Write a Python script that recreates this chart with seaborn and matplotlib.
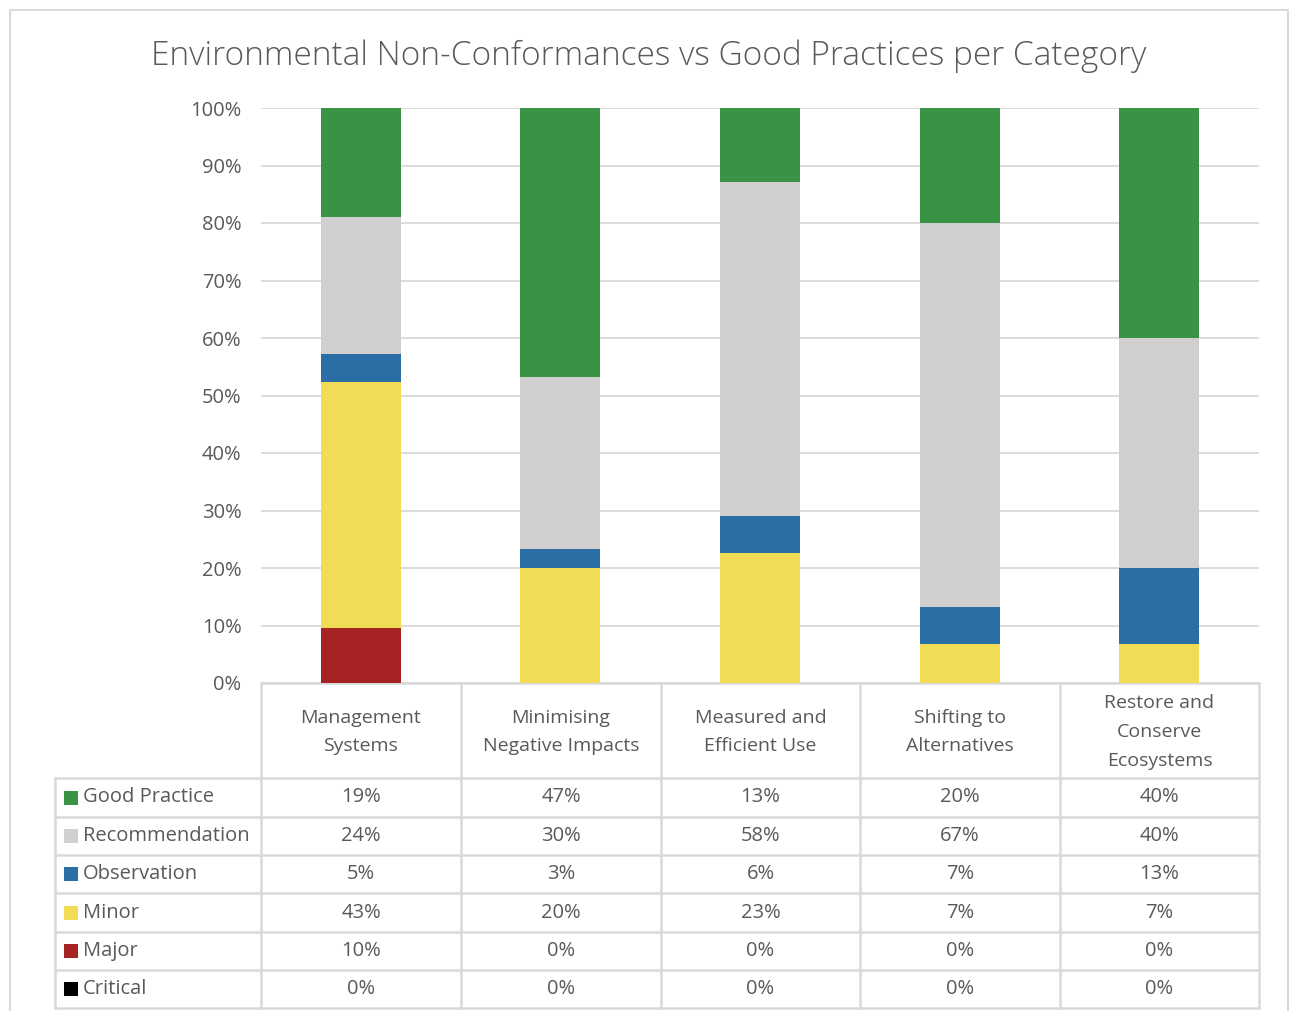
import numpy as np
import pandas as pd
import matplotlib
matplotlib.use("Agg")
import matplotlib.pyplot as plt
import seaborn as sns
from matplotlib.lines import Line2D
from matplotlib.patches import Rectangle
from matplotlib.ticker import PercentFormatter

# ── Data (percent of findings per category) ──────────────────────────────────
categories = [
    "Management\nSystems",
    "Minimising\nNegative Impacts",
    "Measured and\nEfficient Use",
    "Shifting to\nAlternatives",
    "Restore and\nConserve\nEcosystems",
]
critical       = [0.0, 0.0, 0.0, 0.0, 0.0]
major          = [9.5, 0.0, 0.0, 0.0, 0.0]
minor          = [42.9, 20.0, 22.6, 6.7, 6.7]
observation    = [4.8, 3.3, 6.45, 6.6, 13.3]
recommendation = [23.8, 30.0, 58.1, 66.7, 40.0]
good_practice  = [19.0, 46.7, 12.9, 20.0, 40.0]

series_names  = ["Critical", "Major", "Minor", "Observation", "Recommendation", "Good Practice"]
series_values = [critical, major, minor, observation, recommendation, good_practice]
series_colors = ["#000000", "#A52323", "#F2DB55", "#2B6EA6", "#D0CECE", "#3A9244"]

TEXT = "#595959"
GRID = "#D9D9D9"
FONT = ["Open Sans", "DejaVu Sans"]

W, H = 1292, 1011

sns.set_theme(style="white")
plt.rcParams["font.family"] = FONT

fig = plt.figure(figsize=(W / 100, H / 100), dpi=100)

# overlay in pixel coordinates for the chart frame and the data table
bg = fig.add_axes([0, 0, 1, 1], zorder=0)
bg.set_xlim(0, W)
bg.set_ylim(H, 0)
bg.axis("off")

# ── Stacked 100% bars ────────────────────────────────────────────────────────
px_l, px_r, px_t, px_b = 261, 1259, 108, 683
ax = fig.add_axes([px_l / W, 1 - px_b / H, (px_r - px_l) / W, (px_b - px_t) / H], zorder=1)
ax.patch.set_alpha(0)

df = pd.DataFrame({"category": categories})
cum = np.zeros(len(categories))
cums = []
for vals in series_values:
    cum = cum + np.array(vals)
    cums.append(cum.copy())
# draw tallest (cumulative) first so lower segments sit on top
for name, c, col in reversed(list(zip(series_names, cums, series_colors))):
    d = df.assign(value=c)
    sns.barplot(data=d, x="category", y="value", color=col, width=0.4,
                saturation=1, ax=ax, zorder=3, linewidth=0)

ax.set_xlim(-0.5, len(categories) - 0.5)
ax.set_ylim(0, 100)
ax.set_yticks(np.arange(0, 101, 10))
ax.yaxis.set_major_formatter(PercentFormatter(decimals=0))
ax.tick_params(axis="y", labelsize=14.5, colors=TEXT, length=0, pad=14)
ax.set_xticks([])
ax.set_xlabel("")
ax.set_ylabel("")
ax.grid(axis="y", color=GRID, lw=1.3, zorder=0)
for s in ax.spines.values():
    s.set_visible(False)

# title
fig.text(649 / W, 1 - 56 / H, "Environmental Non-Conformances vs Good Practices per Category",
         ha="center", va="center", fontsize=24, color=TEXT, fontweight="light")

# chart frame
bg.add_patch(Rectangle((10, 10), 1278, 1020, fill=False, ec=GRID, lw=1.5))

# ── Data table ───────────────────────────────────────────────────────────────
col_edges = [261, 461, 661, 860, 1060, 1259]
row_edges = [778, 817, 855, 893, 932, 970, 1008]
lab_left = 55
lc = "#D9D9D9"

bg.add_line(Line2D([col_edges[0], col_edges[-1]], [683, 683], color=lc, lw=1.8))
for x in col_edges:
    bg.add_line(Line2D([x, x], [683, row_edges[-1]], color=lc, lw=1.8))
for y in row_edges:
    bg.add_line(Line2D([lab_left, col_edges[-1]], [y, y], color=lc, lw=1.8))
bg.add_line(Line2D([lab_left, lab_left], [row_edges[0], row_edges[-1]], color=lc, lw=1.8))

for i, cat in enumerate(categories):
    xc = (col_edges[i] + col_edges[i + 1]) / 2
    bg.text(xc, 732, cat, ha="center", va="center", fontsize=14, color=TEXT,
            linespacing=1.75)

table_order = list(zip(series_names, series_values, series_colors))[::-1]
for r, (name, vals, col) in enumerate(table_order):
    yc = (row_edges[r] + row_edges[r + 1]) / 2
    bg.add_patch(Rectangle((64, yc - 7), 14, 14, color=col, lw=0))
    bg.text(83, yc, name, ha="left", va="center", fontsize=14.5, color=TEXT)
    for i, v in enumerate(vals):
        xc = (col_edges[i] + col_edges[i + 1]) / 2
        bg.text(xc, yc, f"{v:.0f}%", ha="center", va="center", fontsize=14.5, color=TEXT)

fig.savefig("out.png", dpi=100, facecolor="white")
